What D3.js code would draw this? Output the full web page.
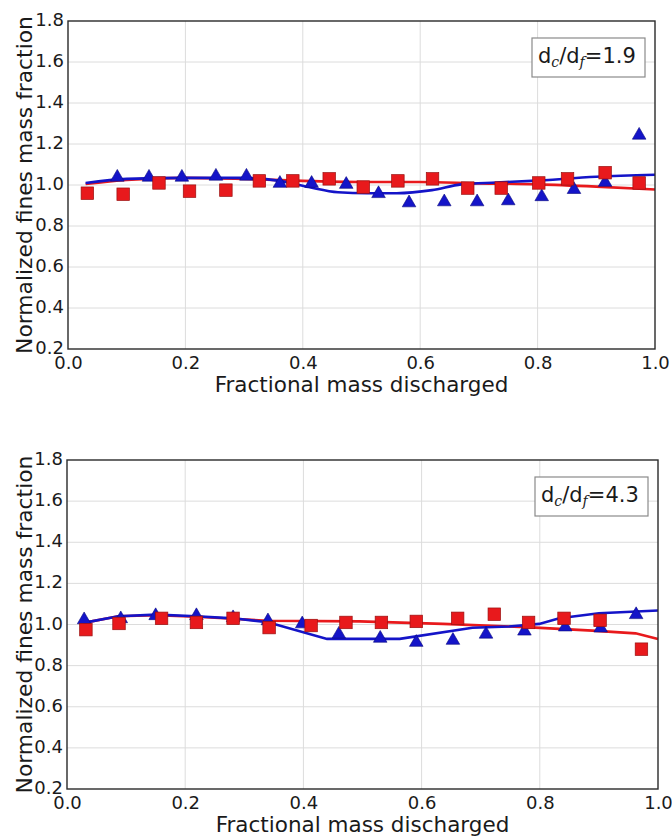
<!DOCTYPE html>
<html>
<head>
<meta charset="utf-8">
<script src="https://cdn.jsdelivr.net/npm/d3@7"></script>
<style>
  body { margin: 0; background: #fff; }
  text { font-family: "DejaVu Sans", sans-serif; fill: #1a1a1a; }
</style>
</head>
<body>
<script>
// ---- data ----
const xTicks = [0.0, 0.2, 0.4, 0.6, 0.8, 1.0];
const yTicks = [0.2, 0.4, 0.6, 0.8, 1.0, 1.2, 1.4, 1.6, 1.8];

// top panel, d_c/d_f = 1.9
const topSquareX = [0.033, 0.094, 0.155, 0.207, 0.269, 0.326, 0.383, 0.445, 0.503, 0.562, 0.621, 0.681, 0.738, 0.802, 0.851, 0.915, 0.973];
const topSquareY = [0.96, 0.955, 1.01, 0.97, 0.975, 1.02, 1.02, 1.03, 0.99, 1.02, 1.03, 0.985, 0.985, 1.01, 1.03, 1.06, 1.01];
const topTriX = [0.084, 0.138, 0.194, 0.252, 0.304, 0.361, 0.415, 0.474, 0.529, 0.581, 0.641, 0.697, 0.750, 0.807, 0.862, 0.915, 0.973];
const topTriY = [1.045, 1.045, 1.045, 1.05, 1.05, 1.015, 1.015, 1.01, 0.965, 0.92, 0.925, 0.925, 0.93, 0.95, 0.985, 1.02, 1.25];
const topRedLineX = [0.03, 0.1, 0.2, 0.3, 0.4, 0.5, 0.6, 0.7, 0.8, 0.9, 1.0];
const topRedLineY = [1.005, 1.025, 1.035, 1.03, 1.02, 1.015, 1.015, 1.008, 1.003, 0.992, 0.978];
const topBlueLineX = [0.03, 0.1, 0.2, 0.3, 0.36, 0.41, 0.46, 0.51, 0.56, 0.62, 0.67, 0.73, 0.79, 0.9, 1.0];
const topBlueLineY = [1.01, 1.03, 1.035, 1.035, 1.02, 0.99, 0.965, 0.96, 0.96, 0.975, 1.003, 1.012, 1.02, 1.04, 1.05];

// bottom panel, d_c/d_f = 4.3
const botSquareX = [0.032, 0.088, 0.160, 0.219, 0.281, 0.342, 0.413, 0.472, 0.532, 0.591, 0.661, 0.723, 0.781, 0.841, 0.902, 0.972];
const botSquareY = [0.975, 1.005, 1.03, 1.01, 1.03, 0.985, 0.995, 1.01, 1.01, 1.015, 1.03, 1.05, 1.01, 1.03, 1.02, 0.88];
const botTriX = [0.029, 0.091, 0.150, 0.219, 0.281, 0.340, 0.398, 0.460, 0.530, 0.591, 0.653, 0.709, 0.774, 0.843, 0.903, 0.963];
const botTriY = [1.03, 1.035, 1.05, 1.05, 1.04, 1.025, 1.01, 0.96, 0.94, 0.92, 0.93, 0.96, 0.975, 0.995, 0.99, 1.055];
const botRedLineX = [0.028, 0.087, 0.151, 0.219, 0.281, 0.340, 0.495, 0.636, 0.777, 0.889, 0.962, 1.0];
const botRedLineY = [1.008, 1.04, 1.045, 1.038, 1.028, 1.018, 1.015, 1.003, 0.987, 0.97, 0.957, 0.93];
const botBlueLineX = [0.028, 0.087, 0.151, 0.219, 0.281, 0.340, 0.44, 0.563, 0.686, 0.748, 0.799, 0.833, 0.9, 1.0];
const botBlueLineY = [1.008, 1.04, 1.048, 1.04, 1.03, 1.011, 0.93, 0.93, 0.984, 0.99, 1.003, 1.03, 1.055, 1.068];

const zip = (xs, ys) => xs.map((x, i) => [x, ys[i]]);

const RED = "#e8191c", BLUE = "#1414c8";

const svg = d3.select("body").append("svg")
  .attr("width", 672).attr("height", 838);

function drawPanel(p) {
  const x = d3.scaleLinear().domain([0, 1]).range([p.left, p.right]);
  const y = d3.scaleLinear().domain([0.2, 1.8]).range([p.bottom, p.top]);
  const g = svg.append("g");

  // grid
  g.append("g").selectAll("line").data(xTicks.slice(1, -1)).join("line")
    .attr("x1", d => x(d)).attr("x2", d => x(d))
    .attr("y1", p.top).attr("y2", p.bottom)
    .attr("stroke", "#dcdcdc").attr("stroke-width", 1);
  g.append("g").selectAll("line").data(yTicks.slice(1, -1)).join("line")
    .attr("y1", d => y(d)).attr("y2", d => y(d))
    .attr("x1", p.left).attr("x2", p.right)
    .attr("stroke", "#dcdcdc").attr("stroke-width", 1);

  // axes (labels only, frame drawn below)
  const xAxis = g.append("g").attr("transform", `translate(0,${p.bottom})`)
    .call(d3.axisBottom(x).tickValues(xTicks).tickFormat(d3.format(".1f")).tickSize(0).tickPadding(7));
  const yAxis = g.append("g").attr("transform", `translate(${p.left},0)`)
    .call(d3.axisLeft(y).tickValues(yTicks).tickFormat(d3.format(".1f")).tickSize(0).tickPadding(4));
  [xAxis, yAxis].forEach(a => {
    a.select(".domain").remove();
    a.selectAll("text").attr("font-size", 18).attr("font-family", "DejaVu Sans, sans-serif").attr("fill", "#1a1a1a");
  });
  yAxis.selectAll("text").attr("dy", "0.25em");

  // fitted lines
  const line = d3.line().x(d => x(d[0])).y(d => y(d[1])).curve(p.curve);
  g.append("path").datum(p.redLine).attr("d", line)
    .attr("fill", "none").attr("stroke", RED).attr("stroke-width", 2.6);
  g.append("path").datum(p.blueLine).attr("d", line)
    .attr("fill", "none").attr("stroke", BLUE).attr("stroke-width", 2.6);

  // markers
  const tri = d3.symbol().type(d3.symbolTriangle).size(80);
  g.append("g").selectAll("path").data(p.tris).join("path")
    .attr("d", tri)
    .attr("transform", d => `translate(${x(d[0])},${y(d[1]) + 1.5})`)
    .attr("fill", BLUE).attr("stroke", "#0a0a80").attr("stroke-width", 0.6);
  const s = 12.5;
  g.append("g").selectAll("rect").data(p.squares).join("rect")
    .attr("x", d => x(d[0]) - s / 2).attr("y", d => y(d[1]) - s / 2)
    .attr("width", s).attr("height", s)
    .attr("fill", RED).attr("stroke", "#9a1010").attr("stroke-width", 0.7);

  // frame
  g.append("rect").attr("x", p.left).attr("y", p.top)
    .attr("width", p.right - p.left).attr("height", p.bottom - p.top)
    .attr("fill", "none").attr("stroke", "#2a2a2a").attr("stroke-width", 1.4);

  // axis titles
  g.append("text").attr("x", (p.left + p.right) / 2).attr("y", p.bottom + 43)
    .attr("text-anchor", "middle").attr("font-size", 21.5)
    .text("Fractional mass discharged");
  g.append("text")
    .attr("transform", `translate(32,${(p.top + p.bottom) / 2}) rotate(-90)`)
    .attr("text-anchor", "middle").attr("font-size", 21.8)
    .text("Normalized fines mass fraction");

  // legend box with ratio
  const lg = g.append("g").attr("transform", `translate(${p.right - 123},${p.top + 17})`);
  lg.append("rect").attr("width", 113).attr("height", 39)
    .attr("fill", "#fff").attr("stroke", "#8a8a8a").attr("stroke-width", 1.2);
  const t = lg.append("text").attr("x", 6).attr("y", 25).attr("font-size", 21);
  t.append("tspan").text("d");
  t.append("tspan").attr("dy", 4).attr("font-size", 14).attr("font-style", "italic")
    .attr("font-family", "DejaVu Serif, serif").text("c");
  t.append("tspan").attr("dy", -4).text("/d");
  t.append("tspan").attr("dy", 4).attr("font-size", 14).attr("font-style", "italic")
    .attr("font-family", "DejaVu Serif, serif").text("f");
  t.append("tspan").attr("dy", -4).text("=" + p.ratio);
}

drawPanel({
  left: 68, right: 655, top: 21, bottom: 349, ratio: "1.9",
  curve: d3.curveMonotoneX,
  squares: zip(topSquareX, topSquareY), tris: zip(topTriX, topTriY),
  redLine: zip(topRedLineX, topRedLineY), blueLine: zip(topBlueLineX, topBlueLineY)
});
drawPanel({
  left: 67, right: 658, top: 460, bottom: 789, ratio: "4.3",
  curve: d3.curveLinear,
  squares: zip(botSquareX, botSquareY), tris: zip(botTriX, botTriY),
  redLine: zip(botRedLineX, botRedLineY), blueLine: zip(botBlueLineX, botBlueLineY)
});
</script>
</body>
</html>
